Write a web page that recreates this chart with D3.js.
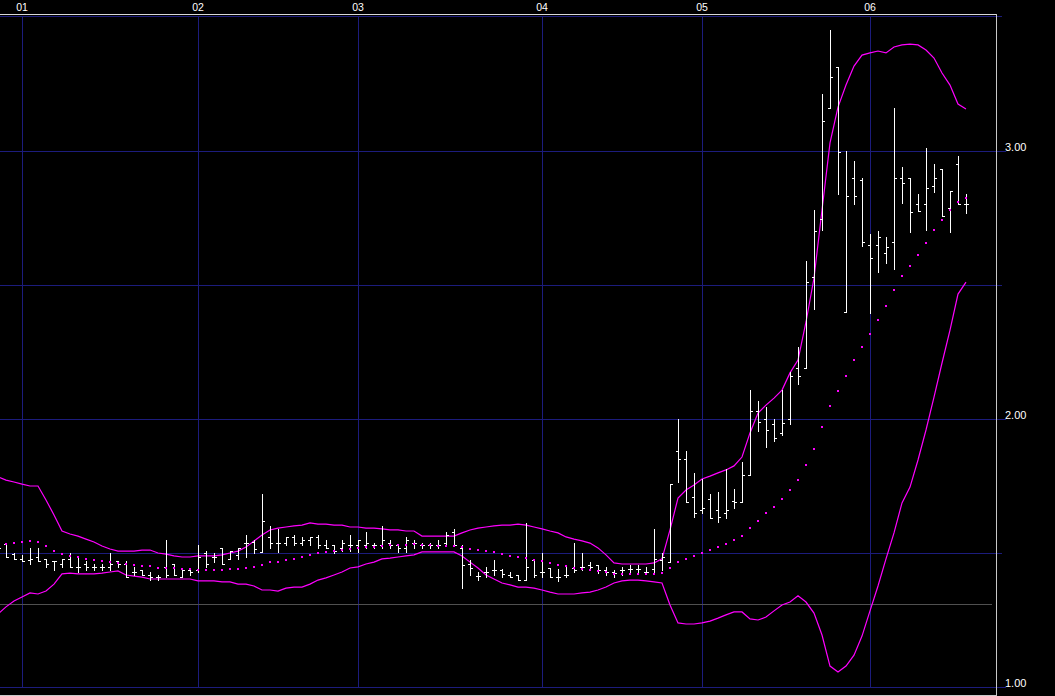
<!DOCTYPE html>
<html><head><meta charset="utf-8">
<script src="https://cdn.jsdelivr.net/npm/d3@7"></script>
<style>html,body{margin:0;padding:0;background:#000;overflow:hidden}</style>
</head><body><svg id="c" width="1055" height="696"></svg>
<script>
// ---- data ----
const monthLabels = ["01","02","03","04","05","06"];
const monthStartIdx = [3,25,45,68,88,109];
const priceTicks = [1.00, 2.00, 3.00];
const halfTicks = [1.50, 2.50];
const refLevel = [1.31];

const openV = [1.519,1.534,1.496,1.478,1.474,1.485,1.478,1.470,1.459,1.478,1.448,1.459,1.448,1.448,1.448,1.470,1.459,1.429,1.437,1.418,1.410,1.448,1.459,1.410,1.437,1.437,1.500,1.485,1.519,1.478,1.493,1.537,1.541,1.504,1.560,1.537,1.537,1.560,1.537,1.549,1.560,1.530,1.530,1.519,1.530,1.530,1.530,1.530,1.530,1.537,1.530,1.519,1.537,1.530,1.530,1.530,1.537,1.578,1.519,1.459,1.414,1.429,1.437,1.437,1.418,1.418,1.399,1.474,1.429,1.444,1.410,1.418,1.444,1.448,1.455,1.455,1.437,1.429,1.437,1.440,1.440,1.429,1.440,1.474,1.466,1.881,1.851,1.709,1.660,1.701,1.660,1.649,1.694,1.690,1.791,2.030,2.000,1.981,1.948,2.000,2.190,2.190,2.530,2.746,3.160,3.313,2.399,2.899,2.892,2.649,2.649,2.619,2.660,2.899,2.899,2.802,2.802,2.869,2.933,2.787,2.951,2.802];
const highV = [1.530,1.537,1.500,1.493,1.519,1.519,1.478,1.470,1.478,1.500,1.485,1.470,1.459,1.459,1.500,1.470,1.470,1.448,1.437,1.429,1.418,1.549,1.459,1.437,1.437,1.530,1.507,1.500,1.519,1.507,1.519,1.567,1.549,1.720,1.601,1.590,1.560,1.567,1.560,1.560,1.567,1.549,1.530,1.549,1.567,1.549,1.578,1.537,1.601,1.549,1.530,1.560,1.549,1.537,1.537,1.549,1.578,1.590,1.530,1.474,1.429,1.448,1.474,1.440,1.429,1.418,1.612,1.474,1.500,1.444,1.440,1.448,1.537,1.500,1.466,1.455,1.448,1.437,1.448,1.455,1.455,1.448,1.590,1.500,1.757,2.000,1.881,1.799,1.776,1.720,1.728,1.813,1.739,1.840,2.108,2.067,2.045,2.000,2.108,2.175,2.269,2.590,2.780,3.213,3.451,3.313,3.000,2.963,2.899,2.690,2.701,2.679,3.160,2.940,2.899,2.840,3.011,2.951,2.933,2.851,2.981,2.840];
const lowV = [1.507,1.485,1.478,1.470,1.459,1.470,1.448,1.437,1.448,1.448,1.429,1.437,1.437,1.437,1.437,1.448,1.410,1.418,1.418,1.399,1.399,1.410,1.418,1.410,1.418,1.429,1.448,1.466,1.459,1.478,1.478,1.485,1.500,1.504,1.519,1.504,1.530,1.530,1.530,1.530,1.519,1.519,1.500,1.507,1.507,1.504,1.519,1.519,1.519,1.519,1.504,1.504,1.519,1.519,1.519,1.519,1.530,1.530,1.369,1.418,1.399,1.410,1.418,1.410,1.410,1.399,1.399,1.410,1.410,1.410,1.396,1.410,1.429,1.437,1.437,1.425,1.418,1.410,1.418,1.425,1.425,1.425,1.425,1.437,1.466,1.765,1.690,1.634,1.649,1.631,1.616,1.631,1.668,1.690,1.791,1.955,1.896,1.918,1.940,1.981,2.131,2.190,2.410,2.705,3.160,2.840,2.399,2.802,2.646,2.396,2.549,2.582,2.560,2.806,2.698,2.776,2.705,2.847,2.757,2.698,2.802,2.769];
const closeV = [1.519,1.485,1.478,1.470,1.478,1.470,1.459,1.470,1.478,1.448,1.448,1.448,1.448,1.448,1.459,1.459,1.410,1.429,1.418,1.410,1.410,1.418,1.418,1.437,1.429,1.485,1.459,1.485,1.459,1.507,1.519,1.537,1.515,1.619,1.537,1.537,1.560,1.537,1.549,1.560,1.530,1.519,1.507,1.537,1.530,1.549,1.537,1.530,1.549,1.530,1.519,1.549,1.537,1.530,1.530,1.530,1.567,1.530,1.455,1.444,1.414,1.429,1.437,1.422,1.410,1.399,1.448,1.418,1.429,1.410,1.410,1.418,1.437,1.448,1.448,1.437,1.429,1.425,1.437,1.440,1.440,1.429,1.478,1.485,1.757,1.851,1.690,1.649,1.668,1.631,1.634,1.660,1.690,1.791,2.030,1.989,1.959,1.929,1.985,2.160,2.160,2.511,2.701,3.112,3.276,2.996,2.832,2.832,2.660,2.601,2.679,2.642,2.899,2.881,2.772,2.776,2.862,2.899,2.757,2.851,2.802,2.802];
const midBand = [1.530,1.534,1.537,1.541,1.545,1.541,1.526,1.507,1.496,1.489,1.485,1.478,1.474,1.470,1.466,1.463,1.459,1.455,1.451,1.451,1.444,1.444,1.444,1.440,1.440,1.437,1.437,1.437,1.437,1.440,1.440,1.444,1.448,1.455,1.466,1.466,1.474,1.478,1.485,1.493,1.500,1.504,1.507,1.511,1.515,1.519,1.522,1.522,1.526,1.530,1.530,1.530,1.534,1.530,1.530,1.526,1.526,1.526,1.522,1.515,1.511,1.507,1.504,1.496,1.489,1.485,1.481,1.474,1.470,1.463,1.455,1.451,1.444,1.440,1.437,1.433,1.429,1.422,1.422,1.422,1.422,1.422,1.422,1.425,1.444,1.466,1.478,1.489,1.500,1.511,1.522,1.534,1.549,1.563,1.593,1.619,1.649,1.672,1.701,1.735,1.772,1.828,1.888,1.970,2.049,2.104,2.160,2.220,2.269,2.317,2.369,2.422,2.481,2.534,2.571,2.612,2.657,2.705,2.743,2.780,2.810,2.825];
const upperBand = [1.784,1.772,1.765,1.757,1.750,1.750,1.698,1.642,1.582,1.571,1.563,1.552,1.541,1.526,1.515,1.507,1.507,1.507,1.511,1.511,1.500,1.496,1.489,1.485,1.485,1.489,1.489,1.489,1.493,1.500,1.507,1.522,1.545,1.567,1.586,1.593,1.597,1.601,1.604,1.612,1.608,1.608,1.604,1.604,1.597,1.597,1.593,1.593,1.590,1.586,1.586,1.582,1.582,1.563,1.563,1.563,1.563,1.563,1.575,1.586,1.593,1.597,1.601,1.604,1.604,1.608,1.604,1.597,1.590,1.582,1.575,1.560,1.552,1.545,1.537,1.519,1.493,1.463,1.459,1.459,1.459,1.459,1.463,1.478,1.586,1.705,1.735,1.754,1.776,1.787,1.799,1.810,1.825,1.858,1.948,2.022,2.052,2.078,2.108,2.172,2.220,2.362,2.526,2.780,3.030,3.164,3.246,3.317,3.358,3.366,3.373,3.366,3.388,3.396,3.399,3.396,3.377,3.347,3.291,3.246,3.175,3.157];
const lowerBand = [1.272,1.299,1.321,1.336,1.351,1.347,1.358,1.384,1.422,1.425,1.422,1.422,1.422,1.425,1.429,1.433,1.418,1.414,1.410,1.403,1.403,1.403,1.403,1.403,1.403,1.396,1.396,1.396,1.392,1.392,1.384,1.384,1.377,1.362,1.362,1.358,1.369,1.373,1.373,1.384,1.399,1.407,1.418,1.429,1.444,1.448,1.459,1.466,1.478,1.481,1.485,1.489,1.493,1.504,1.504,1.504,1.504,1.504,1.489,1.466,1.444,1.418,1.403,1.388,1.381,1.373,1.373,1.369,1.362,1.354,1.347,1.347,1.347,1.351,1.354,1.362,1.373,1.388,1.396,1.399,1.399,1.396,1.392,1.388,1.306,1.239,1.235,1.235,1.239,1.246,1.257,1.269,1.280,1.280,1.254,1.250,1.261,1.284,1.306,1.317,1.340,1.317,1.276,1.194,1.078,1.056,1.078,1.119,1.190,1.284,1.377,1.478,1.575,1.687,1.746,1.847,1.959,2.082,2.209,2.332,2.466,2.511];

// ---- chart ----
const W = 1055, H = 696;
const svg = d3.select("#c").style("background", "#000");
const n = closeV.length;
const x = d3.scaleLinear().domain([0, n - 1]).range([-2, -2 + 8 * (n - 1)]);
const y = d3.scaleLinear().domain([1, 3]).range([687, 151]);
const px = v => Math.round(x(v)) + 0.5;
const py = v => Math.round(y(v)) + 0.5;

const blue = "#1c1c7c";
const g = svg.append("g").attr("shape-rendering", "crispEdges");

// vertical month lines
g.selectAll(".vl").data(monthStartIdx).join("line")
  .attr("x1", d => px(d)).attr("x2", d => px(d))
  .attr("y1", 16).attr("y2", 687)
  .attr("stroke", blue).attr("stroke-width", 1);

// horizontal grid lines
g.selectAll(".hl").data(priceTicks.concat(halfTicks)).join("line")
  .attr("x1", 0).attr("x2", d => priceTicks.includes(d) ? 1006 : 1002)
  .attr("y1", d => py(d)).attr("y2", d => py(d))
  .attr("stroke", blue);
g.selectAll(".rl").data(refLevel).join("line")
  .attr("x1", 0).attr("x2", 992)
  .attr("y1", d => py(d)).attr("y2", d => py(d))
  .attr("stroke", "#505050");

// frame
g.append("line").attr("x1", 0).attr("x2", 1002).attr("y1", 16.5).attr("y2", 16.5).attr("stroke", blue);
g.append("line").attr("x1", 0).attr("x2", 997).attr("y1", 14.5).attr("y2", 14.5).attr("stroke", "#d8d8d8");
g.append("line").attr("x1", 996.5).attr("x2", 996.5).attr("y1", 14).attr("y2", 696).attr("stroke", "#c8c8c8");
g.append("line").attr("x1", 0).attr("x2", 997).attr("y1", 695.5).attr("y2", 695.5).attr("stroke", "#c8c8c8");

// plot clip
svg.append("clipPath").attr("id", "pc").append("rect").attr("x", 0).attr("y", 17).attr("width", 996).attr("height", 678);
const plot = svg.append("g").attr("clip-path", "url(#pc)");

// bands
const lineGen = d3.line().x((d, i) => x(i)).y(d => y(d));
plot.append("path").datum(upperBand).attr("d", lineGen).attr("fill", "none").attr("stroke", "#ff00ff").attr("stroke-width", 1.2);
plot.append("path").datum(lowerBand).attr("d", lineGen).attr("fill", "none").attr("stroke", "#ff00ff").attr("stroke-width", 1.2);

// OHLC bars
const bars = plot.append("g").attr("shape-rendering", "crispEdges").attr("stroke", "#fff").attr("stroke-width", 1);
const idx = d3.range(n);
bars.selectAll(".hlv").data(idx).join("line")
  .attr("x1", i => px(i)).attr("x2", i => px(i))
  .attr("y1", i => Math.round(y(highV[i]))).attr("y2", i => Math.round(y(lowV[i])) + 1);
bars.selectAll(".op").data(idx).join("line")
  .attr("x1", i => Math.round(x(i)) - 2).attr("x2", i => Math.round(x(i)))
  .attr("y1", i => py(openV[i])).attr("y2", i => py(openV[i]));
bars.selectAll(".cl").data(idx).join("line")
  .attr("x1", i => Math.round(x(i)) + 1).attr("x2", i => Math.round(x(i)) + 3)
  .attr("y1", i => py(closeV[i])).attr("y2", i => py(closeV[i]));

// middle band dots
plot.append("g").attr("shape-rendering", "crispEdges").selectAll("rect").data(midBand).join("rect")
  .attr("x", (d, i) => Math.round(x(i)) - 1).attr("y", d => Math.round(y(d)) - 1)
  .attr("width", 2).attr("height", 2).attr("fill", "#ff00ff");

// month labels
svg.selectAll(".ml").data(monthStartIdx).join("text")
  .attr("x", d => x(d)).attr("y", 11)
  .attr("text-anchor", "middle")
  .attr("fill", "#fff").attr("font-family", "Liberation Sans, Arial, sans-serif").attr("font-size", "10.5px")
  .text((d, i) => monthLabels[i]);

// price labels
svg.selectAll(".pl").data(priceTicks).join("text")
  .attr("x", 1005).attr("y", d => y(d))
  .attr("fill", "#fff").attr("font-family", "Liberation Sans, Arial, sans-serif").attr("font-size", "11px")
  .text(d => d3.format(".2f")(d));
</script>
</body></html>
